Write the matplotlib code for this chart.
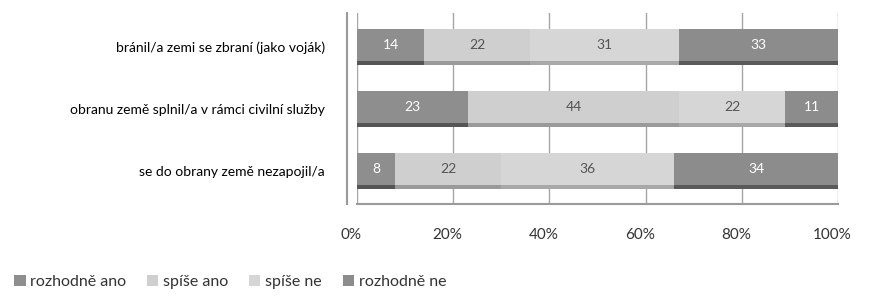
import numpy as np
import matplotlib.pyplot as plt
from matplotlib.transforms import ScaledTranslation

plt.rcParams['font.family'] = ['Lato', 'DejaVu Sans']

categories = ["bránil/a zemi se zbraní (jako voják)",
              "obranu země splnil/a v rámci civilní služby",
              "se do obrany země nezapojil/a"]
series = ["rozhodně ano", "spíše ano", "spíše ne", "rozhodně ne"]
values = [[14, 23, 8],
          [22, 44, 22],
          [31, 22, 36],
          [33, 11, 34]]
colors = ["#8e8e8e", "#cfcfcf", "#d6d6d6", "#8c8c8c"]
text_colors = ["white", "#555555", "#555555", "white"]
shade = ["#555555", "#9a9a9a", "#a8a8a8", "#5a5a5a"]
xticks = [0, 20, 40, 60, 80, 100]
xtick_labels = ["0%", "20%", "40%", "60%", "80%", "100%"]

fig = plt.figure(figsize=(8.76, 2.96), dpi=100)
ax = fig.add_axes([357 / 876, 92 / 296, 481 / 876, 191 / 296])

y = np.arange(len(categories))
h = 0.58
left = np.zeros(len(categories))
for i, s in enumerate(series):
    v = np.array(values[i], dtype=float)
    ax.barh(y, v, left=left, height=h, color=colors[i], label=s, zorder=3)
    # darker bottom edge to mimic the 3D look
    ax.barh(y + h / 2 - 0.03, v, left=left, height=0.06, color=shade[i], zorder=4)
    for j in range(len(categories)):
        ax.text(left[j] + v[j] / 2, y[j] - 0.03, str(values[i][j]), ha="center", va="center",
                fontsize=10, color=text_colors[i], zorder=5)
    left += v

ax.set_xlim(0, 100)
ax.set_ylim(2.53, -0.55)
ax.set_yticks(y)
ax.set_yticklabels(categories, fontsize=10, color="#333333")
ax.tick_params(axis="y", length=0, pad=16)
ax.set_xticks(xticks)
ax.set_xticklabels(xtick_labels, fontsize=11, color="#333333")
ax.tick_params(axis="x", length=0, pad=17)
for lab in ax.get_xticklabels():
    lab.set_transform(lab.get_transform() + ScaledTranslation(-6 / 100, 0, fig.dpi_scale_trans))

ax.grid(axis="x", color="#a5a5a5", linewidth=1, zorder=0)
for sp in ["top", "right"]:
    ax.spines[sp].set_visible(False)
ax.spines["left"].set_position(("outward", 7))
ax.spines["left"].set_color("#9a9a9a")
ax.spines["left"].set_linewidth(1.5)
ax.spines["bottom"].set_color("#9a9a9a")
ax.spines["bottom"].set_linewidth(1.5)

handles, labels = ax.get_legend_handles_labels()
fig.legend(handles, labels, loc="lower left", bbox_to_anchor=(0.0, -0.025), ncol=4,
           frameon=False, fontsize=11.5, handlelength=0.7, handleheight=0.7,
           handletextpad=0.3, columnspacing=1.3, labelcolor="#333333")

fig.savefig("out.png", dpi=100)
